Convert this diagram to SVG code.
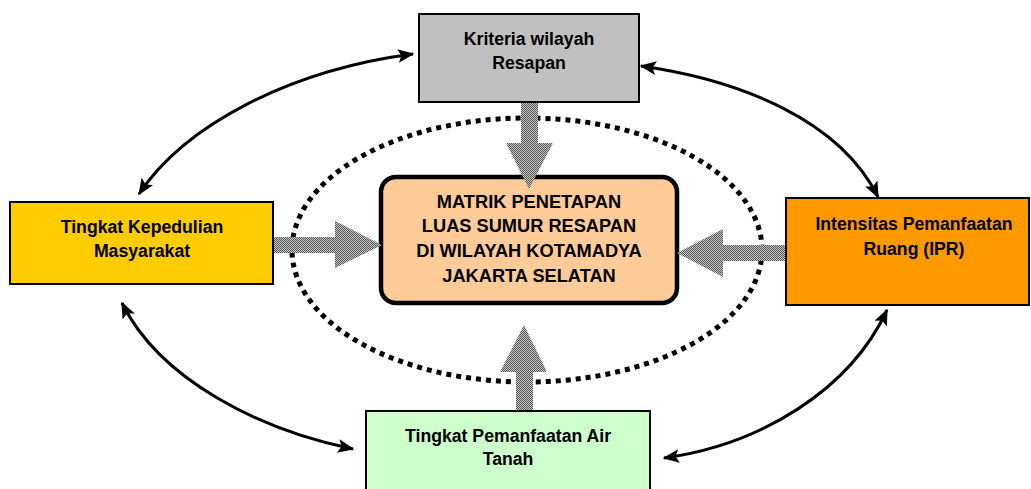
<svg xmlns="http://www.w3.org/2000/svg" width="1031" height="489" viewBox="0 0 1031 489">
<style>
.box{stroke:#000;stroke-width:2}
.t{font-family:"Liberation Sans",Arial,sans-serif;font-weight:bold;font-size:19px;fill:#000;text-anchor:middle}
.curve{fill:none;stroke:#000;stroke-width:3;marker-start:url(#ah);marker-end:url(#ah)}
.fat{fill:url(#chk);stroke:none}
</style>
<defs>
<pattern id="chk" width="2" height="2" patternUnits="userSpaceOnUse">
<rect width="2" height="2" fill="#c8c8c8"/>
<rect width="1" height="1" fill="#555"/>
<rect x="1" y="1" width="1" height="1" fill="#555"/>
</pattern>
<marker id="ah" viewBox="0 0 12 10" refX="11" refY="5" markerWidth="5.5" markerHeight="4.6" orient="auto-start-reverse">
<path d="M0,0 L12,5 L0,10 L2.5,5 Z" fill="#000"/>
</marker>
</defs>
<rect width="1031" height="489" fill="#fff"/>
<g id="ellipse">
<ellipse cx="527" cy="250" rx="235" ry="132" fill="none" stroke="#000" stroke-width="5" stroke-dasharray="5 5"/>
</g>
<g id="center">
<rect x="381" y="177" width="296" height="126" rx="15" ry="15" fill="#FFCC99" stroke="#000" stroke-width="4.5"/>
<text class="t" transform="translate(529 208) scale(0.96 1)">MATRIK PENETAPAN</text>
<text class="t" transform="translate(529 232) scale(0.96 1)">LUAS SUMUR RESAPAN</text>
<text class="t" transform="translate(529 257) scale(0.96 1)">DI WILAYAH KOTAMADYA</text>
<text class="t" transform="translate(529 282) scale(0.96 1)">JAKARTA SELATAN</text>
</g>
<g id="kriteria">
<rect class="box" x="419" y="14" width="220" height="88" fill="#C0C0C0"/>
<text class="t" transform="translate(529 45) scale(0.93 1)">Kriteria wilayah</text>
<text class="t" transform="translate(529 69) scale(0.93 1)">Resapan</text>
</g>
<g id="kepedulian">
<rect class="box" x="10" y="202" width="263" height="82" fill="#FFCC00"/>
<text class="t" transform="translate(142 233) scale(0.93 1)">Tingkat Kepedulian</text>
<text class="t" transform="translate(142 257) scale(0.93 1)">Masyarakat</text>
</g>
<g id="ipr">
<rect class="box" x="786" y="198" width="243" height="107" fill="#FF9900"/>
<text class="t" transform="translate(914 230) scale(0.93 1)">Intensitas Pemanfaatan</text>
<text class="t" transform="translate(914 255) scale(0.93 1)">Ruang (IPR)</text>
</g>
<g id="airtanah">
<rect class="box" x="366" y="411" width="284" height="90" fill="#CCFFCC"/>
<text class="t" transform="translate(508 442) scale(0.93 1)">Tingkat Pemanfaatan Air</text>
<text class="t" transform="translate(508 465) scale(0.93 1)">Tanah</text>
</g>
<g id="connectors">
<path class="fat" d="M521,103 H538 V143 H553 L529,189 L506,143 H521 Z"/>
<path class="fat" d="M274,237 H335 V221 L382,245 L335,268 V253 H274 Z"/>
<path class="fat" d="M785,245 H723 V229 L677,253 L723,277 V261 H785 Z"/>
<path class="fat" d="M516,410 V372 H500 L524,325 L547,372 H533 V410 Z"/>
<path class="curve" d="M139,194 C185,125 290,70 413,54"/>
<path class="curve" d="M641,66 C740,80 840,120 878,197"/>
<path class="curve" d="M122,303 C160,380 260,430 353,449"/>
<path class="curve" d="M664,458 C760,445 850,390 887,310"/>
</g>
</svg>
